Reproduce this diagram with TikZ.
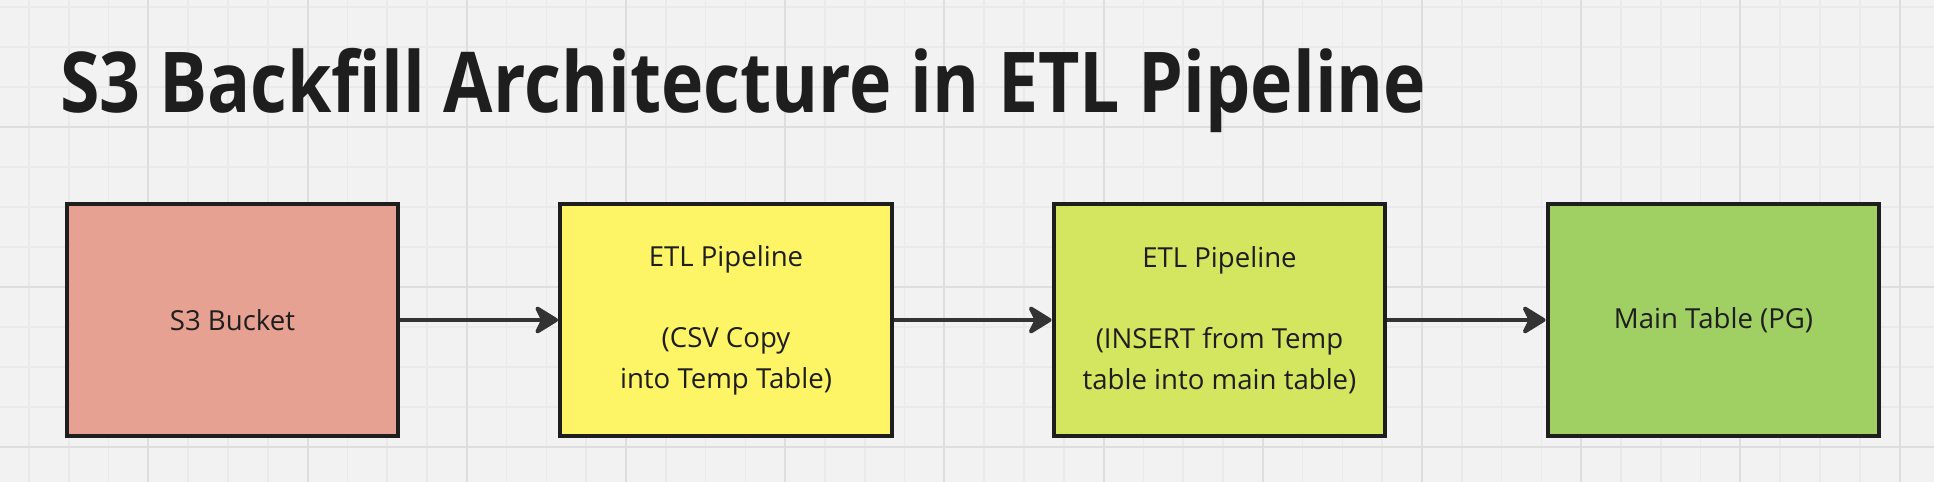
\documentclass[tikz,border=0pt]{standalone}
\usepackage{fontspec}
\setmainfont{Open Sans}
\newfontfamily\titlefont[FakeStretch=0.853]{Open Sans}
\usetikzlibrary{arrows.meta}

\definecolor{canvas}{HTML}{F2F2F2}
\definecolor{gridminor}{HTML}{EAEAEA}
\definecolor{gridmajor}{HTML}{DEDEDE}
\definecolor{bucketred}{HTML}{E6A192}
\definecolor{copyyellow}{HTML}{FDF566}
\definecolor{insertlime}{HTML}{D4E65F}
\definecolor{tablegreen}{HTML}{A0CF63}
\definecolor{inkdark}{HTML}{1E1E1E}
\definecolor{arrowgray}{HTML}{333333}

\begin{document}
\begin{tikzpicture}[x=0.02cm, y=-0.02cm,
  stagebox/.style={draw=inkdark, line width=0.08cm, minimum width=6.64cm,
    minimum height=4.64cm, inner sep=0pt, align=center, text=inkdark,
    font=\fontsize{15.7}{23.2}\selectfont},
  flow/.style={draw=arrowgray, line width=0.08cm,
    -{Stealth[length=0.54cm, width=0.66cm, inset=0.16cm, round]}}]
% Set the canvas size (1 unit = 1 px)
\useasboundingbox (0,0) rectangle (1934,482);
\fill[canvas] (0,0) rectangle (1934,482);

% Draw the grid
\foreach \k in {0,...,47}
  \draw[gridminor, line width=0.03cm] ({29+39.8*\k},0) -- ++(0,482);
\foreach \k in {0,...,11}
  \draw[gridminor, line width=0.03cm] (0,{7+40*\k}) -- ++(1934,0);
\foreach \k in {0,...,11}
  \draw[gridmajor, line width=0.04cm] ({148.4+159.2*\k},0) -- ++(0,482);
\foreach \y in {127,287,447}
  \draw[gridmajor, line width=0.04cm] (0,\y) -- ++(1934,0);

% Title
\node[anchor=base west, inner sep=0pt, text=inkdark,
  font=\titlefont\fontsize{47.8}{57}\selectfont\bfseries] (title) at (60,113)
  {S3 Backfill Architecture in ETL Pipeline};

% Pipeline stages
\node[stagebox, fill=bucketred] (bucket) at (232.5,320) {S3 Bucket};
\node[stagebox, fill=copyyellow] (csvcopy) at (726,320)
  {ETL Pipeline\\[23.2pt](CSV Copy\\into Temp Table)};
\node[stagebox, fill=insertlime] (insert) at (1219.5,320)
  {ETL Pipeline\\[23.2pt](INSERT from Temp\\table into main table)};
\node[stagebox, fill=tablegreen] (maintable) at (1713.5,320) {Main Table (PG)};

% Connectors
\draw[flow] (bucket) -- (csvcopy);
\draw[flow] (csvcopy) -- (insert);
\draw[flow] (insert) -- (maintable);
\end{tikzpicture}
\end{document}
